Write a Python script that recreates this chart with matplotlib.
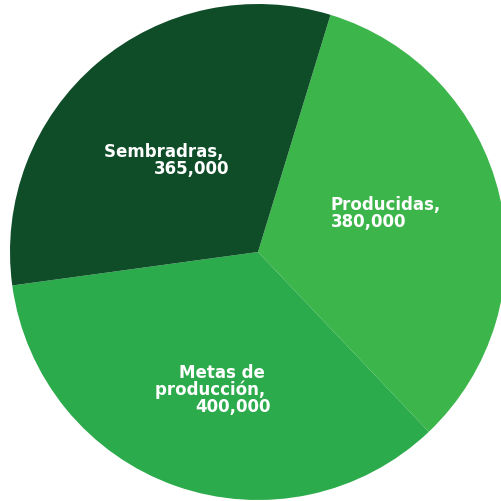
import matplotlib
matplotlib.use("Agg")
import matplotlib.pyplot as plt

categories = ["Producidas", "Metas de producción", "Sembradras"]
values = [380000, 400000, 365000]
colors = ["#3cb54a", "#2bab4b", "#0f4d28"]
label_lines = [
    ["Producidas,", "380,000"],
    ["Metas de ", "producción, ", "400,000"],
    ["Sembradras, ", "365,000"],
]

W, H = 501, 502
cx, cy, R = 258, 253, 248

fig = plt.figure(figsize=(W / 100, H / 100), dpi=100)
ax = fig.add_axes([0, 0, 1, 1])
ax.pie(values, colors=colors, startangle=73.0, counterclock=False,
       radius=1.0, wedgeprops=dict(linewidth=0))
ax.set_xlim(-cx / R, (W - cx) / R)
ax.set_ylim(-(H - cy) / R, cy / R)
ax.set_aspect("auto")
ax.axis("off")

font = dict(family=["DejaVu Sans"], fontweight="bold",
            fontsize=12, color="white")

# label anchors (pixel): x, first baseline y, alignment
anchors = [(331, 210, "left"), (271, 378, "right"), (229, 157, "right")]
pitch = 16.8
for lines, (x, y0, ha) in zip(label_lines, anchors):
    for i, line in enumerate(lines):
        fig.text(x / W, 1 - (y0 + i * pitch) / H, line, ha=ha, va="baseline", **font)

fig.savefig("out.png", dpi=100)
